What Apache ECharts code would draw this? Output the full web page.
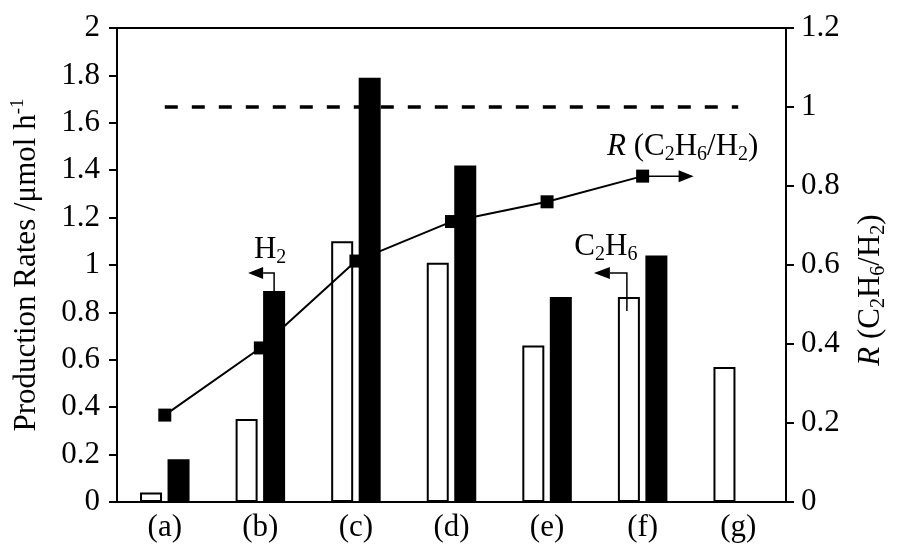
<!DOCTYPE html>
<html>
<head>
<meta charset="utf-8">
<script src="https://cdn.jsdelivr.net/npm/echarts@6/dist/echarts.min.js"></script>
<style>
  html, body { margin: 0; padding: 0; background: #fff; }
  #chart { width: 901px; height: 553px; }
</style>
</head>
<body>
<div id="chart"></div>
<script>
// Samples (a)–(g)
const categories = ['(a)', '(b)', '(c)', '(d)', '(e)', '(f)', '(g)'];
// Production rates, µmol h^-1 (left axis)
const c2h6Rates = [0.04, 0.35, 1.10, 1.01, 0.66, 0.865, 0.57];
const h2Rates   = [0.18, 0.89, 1.79, 1.42, 0.865, 1.04, null];
// Ratio R = C2H6/H2 (right axis)
const ratioR    = [0.22, 0.39, 0.61, 0.71, 0.76, 0.825, null];
// Reference level R = 1
const ratioRef  = [1, 1, 1, 1, 1, 1, 1];

const FONT = '"Liberation Serif", "Times New Roman", serif';
const FS = 31;

const subStyle = { fontFamily: FONT, fontSize: 20, color: '#000', verticalAlign: 'bottom', lineHeight: 17 };
const mainStyle = { fontFamily: FONT, fontSize: FS, color: '#000', lineHeight: 36 };

const option = {
  animation: false,
  backgroundColor: '#fff',
  grid: {
    left: 117, right: 115, top: 28, bottom: 51,
    containLabel: false, outerBoundsMode: 'none',
    show: true, borderColor: '#000', borderWidth: 2
  },
  xAxis: {
    type: 'category',
    data: categories,
    axisLine: { lineStyle: { color: '#000', width: 2 } },
    axisTick: { show: false },
    axisLabel: { fontFamily: FONT, fontSize: FS, color: '#000', margin: 10 }
  },
  yAxis: [
    {
      type: 'value', min: 0, max: 2, interval: 0.2, position: 'left',
      splitLine: { show: false },
      axisLine: { show: true, lineStyle: { color: '#000', width: 2 } },
      axisTick: { show: true, length: 8, lineStyle: { color: '#000', width: 2 } },
      axisLabel: { fontFamily: FONT, fontSize: FS, color: '#000', margin: 17 },
      name: '{m|Production Rates /μmol h}{sup|-1}',
      nameLocation: 'middle',
      nameGap: 72,
      nameTextStyle: {
        fontFamily: FONT, fontSize: FS, color: '#000',
        rich: {
          m: mainStyle,
          sup: { fontFamily: FONT, fontSize: 19, color: '#000', verticalAlign: 'top', lineHeight: 26 }
        }
      }
    },
    {
      type: 'value', min: 0, max: 1.2, interval: 0.2, position: 'right',
      splitLine: { show: false },
      axisLine: { show: true, lineStyle: { color: '#000', width: 2 } },
      axisTick: { show: true, length: 8, lineStyle: { color: '#000', width: 2 } },
      axisLabel: { fontFamily: FONT, fontSize: FS, color: '#000', margin: 15 },
      name: '{i|R}{m| (C}{s|2}{m|H}{s|6}{m|/H}{s|2}{m|)}',
      nameLocation: 'middle',
      nameGap: 67,
      nameTextStyle: {
        fontFamily: FONT, fontSize: FS, color: '#000',
        padding: [0, 50, 0, 0],
        rich: {
          i: Object.assign({}, mainStyle, { fontStyle: 'italic' }),
          m: mainStyle,
          s: subStyle
        }
      }
    }
  ],
  series: [
    {
      name: 'C2H6', type: 'bar', yAxisIndex: 0, data: c2h6Rates,
      barWidth: 22, barGap: '25%',
      itemStyle: { color: '#fff', borderColor: '#000', borderWidth: 2 }
    },
    {
      name: 'H2', type: 'bar', yAxisIndex: 0, data: h2Rates,
      barWidth: 22, barGap: '25%',
      itemStyle: { color: '#000', borderColor: '#000', borderWidth: 2 }
    },
    {
      name: 'R ref', type: 'line', yAxisIndex: 1, data: ratioRef,
      symbol: 'none', silent: true,
      lineStyle: { color: '#000', width: 3.5, type: [13, 14] },
      z: 5
    },
    {
      name: 'R', type: 'line', yAxisIndex: 1, data: ratioR,
      symbol: 'rect', symbolSize: 13,
      itemStyle: { color: '#000' },
      lineStyle: { color: '#000', width: 2 },
      z: 6
    }
  ]
};

const chart = echarts.init(document.getElementById('chart'), null, { renderer: 'canvas' });
chart.setOption(option);

// Pixel position of the top-centre of a bar
function barTop(seriesIndex, dataIndex) {
  const lay = chart.getModel().getSeriesByIndex(seriesIndex).getData().getItemLayout(dataIndex);
  return { x: lay.x + lay.width / 2, y: Math.min(lay.y, lay.y + lay.height) };
}

// Elbow arrow pointing left (towards the left axis)
function leftArrow(x, yStart, yTurn, xTurn, xTip) {
  return [
    { type: 'polyline', shape: { points: [[x, yStart], [x, yTurn], [xTurn, yTurn]] },
      style: { stroke: '#000', lineWidth: 1.5, fill: null }, z: 20 },
    { type: 'polygon', shape: { points: [[xTip, yTurn], [xTurn, yTurn - 6], [xTurn, yTurn + 6]] },
      style: { fill: '#000' }, z: 20 }
  ];
}

const annFont = { fontFamily: FONT, fontSize: FS, fill: '#000' };
const annRich = {
  m: { fontFamily: FONT, fontSize: FS, color: '#000', lineHeight: 36 },
  i: { fontFamily: FONT, fontSize: FS, color: '#000', lineHeight: 36, fontStyle: 'italic' },
  s: { fontFamily: FONT, fontSize: 20, color: '#000', verticalAlign: 'bottom', lineHeight: 17 }
};

const hTop = barTop(1, 1);   // H2 bar of sample (b)
const cTop = barTop(0, 5);   // C2H6 bar of sample (f)
const rPt = chart.convertToPixel({ xAxisIndex: 0, yAxisIndex: 1 }, [5, ratioR[5]]);

const graphics = []
  .concat(leftArrow(hTop.x, hTop.y, hTop.y - 18, hTop.x - 11, hTop.x - 26))
  .concat(leftArrow(cTop.x - 2, cTop.y + 14, cTop.y - 24, cTop.x - 19, cTop.x - 35))
  .concat([
    { type: 'text', x: hTop.x - 4, y: hTop.y - 41, z: 20,
      style: Object.assign({ text: '{m|H}{s|2}', rich: annRich, align: 'center', verticalAlign: 'middle' }, annFont) },
    { type: 'text', x: cTop.x - 23, y: cTop.y - 50, z: 20,
      style: Object.assign({ text: '{m|C}{s|2}{m|H}{s|6}', rich: annRich, align: 'center', verticalAlign: 'middle' }, annFont) },
    { type: 'line', shape: { x1: rPt[0], y1: rPt[1], x2: rPt[0] + 37, y2: rPt[1] },
      style: { stroke: '#000', lineWidth: 1.5 }, z: 20 },
    { type: 'polygon', shape: { points: [[rPt[0] + 51, rPt[1]], [rPt[0] + 36, rPt[1] - 6], [rPt[0] + 36, rPt[1] + 6]] },
      style: { fill: '#000' }, z: 20 },
    { type: 'text', x: rPt[0] + 40, y: rPt[1] - 29, z: 20,
      style: Object.assign({ text: '{i|R}{m| (C}{s|2}{m|H}{s|6}{m|/H}{s|2}{m|)}', rich: annRich, align: 'center', verticalAlign: 'middle' }, annFont) }
  ]);

chart.setOption({ graphic: graphics });
</script>
</body>
</html>
